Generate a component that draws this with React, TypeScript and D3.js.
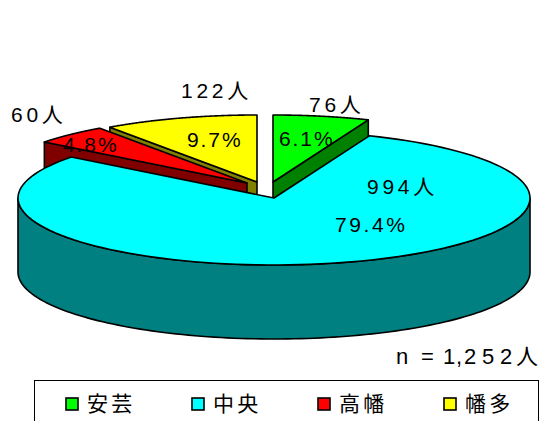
import React from "react";
import * as d3 from "d3";

const categories = ["安芸", "中央", "高幡", "幡多"];
const values = [76, 994, 60, 122];
const percentLabels = ["6.1%", "79.4%", "4.8%", "9.7%"];
const countLabels = ["76人", "994人", "60人", "122人"];
const topColors = ["#00ff00", "#00ffff", "#ff0000", "#ffff00"];
const sideColors = ["#008000", "#008080", "#800000", "#808000"];
const explode: [number, number][] = [[-1, -16], [0, 0], [-27, -15], [-17, -16]];
const countPos: [number, number][] = [[309, 112], [367, 194], [11, 122], [181, 98]];
const percentPos: [number, number][] = [[279, 146], [335, 232], [63, 152], [187, 147]];
const drawOrder = [0, 3, 2, 1];
const legendX = [66, 192, 318, 444];

const W = 540, H = 421, CX = 274, CY = 198, RX = 256, RY = 67, DEPTH = 74;
const FONT = "'Liberation Sans', Arial, 'Noto Sans CJK JP', sans-serif";

const arcs = d3.pie<number>().sort(null)(values);
const pt = (a: number, dx: number, dy: number, r = 1): [number, number] => [
  CX + dx + RX * r * Math.sin(a),
  CY + dy - RY * r * Math.cos(a),
];
const line = d3.line<[number, number]>();
const sample = (a0: number, a1: number, dx: number, dy: number) =>
  d3.range(0, 121).map((i) => pt(a0 + ((a1 - a0) * i) / 120, dx, dy));

export default function App() {
  return (
    <svg width={W} height={H} viewBox={`0 0 ${W} ${H}`} style={{ position: "absolute", left: 0, top: 0, background: "#fff" }}>
      {drawOrder.map((i) => {
        const { startAngle: s, endAngle: e } = arcs[i];
        const [dx, dy] = explode[i];
        const apex: [number, number] = [CX + dx, CY + dy];
        const apexLow: [number, number] = [apex[0], apex[1] + DEPTH];
        const stroke = { stroke: "#000", strokeWidth: 1.6, strokeLinejoin: "round" as const };
        const wall = (a: number) => {
          const p = pt(a, dx, dy);
          return line([apex, p, [p[0], p[1] + DEPTH], apexLow])! + "Z";
        };
        const frontFrom = Math.max(s, Math.PI / 2);
        const frontTo = Math.min(e, (3 * Math.PI) / 2);
        const hasFront = frontTo > frontFrom;
        const front = hasFront
          ? sample(frontFrom, frontTo, dx, dy).concat(
              sample(frontTo, frontFrom, dx, dy).map(([x, y]) => [x, y + DEPTH] as [number, number])
            )
          : [];
        return (
          <g key={categories[i]}>
            {i === 0 && <path d={wall(e)} fill={sideColors[i]} {...stroke} />}
            {(i === 2 || i === 3) && <path d={wall(s)} fill={sideColors[i]} {...stroke} />}
            {hasFront && <path d={line(front)! + "Z"} fill={sideColors[i]} {...stroke} />}
            <path d={line([apex, ...sample(s, e, dx, dy)])! + "Z"} fill={topColors[i]} {...stroke} />
          </g>
        );
      })}
      <g fontFamily={FONT} fill="#000">
        {countLabels.map((t, i) => (
          <text key={t} x={countPos[i][0]} y={countPos[i][1]} fontSize={21} letterSpacing={3.7}>{t}</text>
        ))}
        {percentLabels.map((t, i) => (
          <text key={t} x={percentPos[i][0]} y={percentPos[i][1]} fontSize={21} letterSpacing={i === 1 ? 2.6 : 1.9}>{t}</text>
        ))}
        <text y={364} fontSize={22} x="396 409 421 434 443 456 464 482 500 516">n = 1,252人</text>
        <rect x={34.5} y={380.5} width={504} height={60} fill="none" stroke="#000" strokeWidth={1} />
        {categories.map((c, i) => (
          <g key={c}>
            <rect x={legendX[i]} y={398} width={12} height={12} fill={topColors[i]} stroke="#000" strokeWidth={1.6} />
            <text x={legendX[i] + 21} y={411} fontSize={21} letterSpacing={3.2}>{c}</text>
          </g>
        ))}
      </g>
    </svg>
  );
}
